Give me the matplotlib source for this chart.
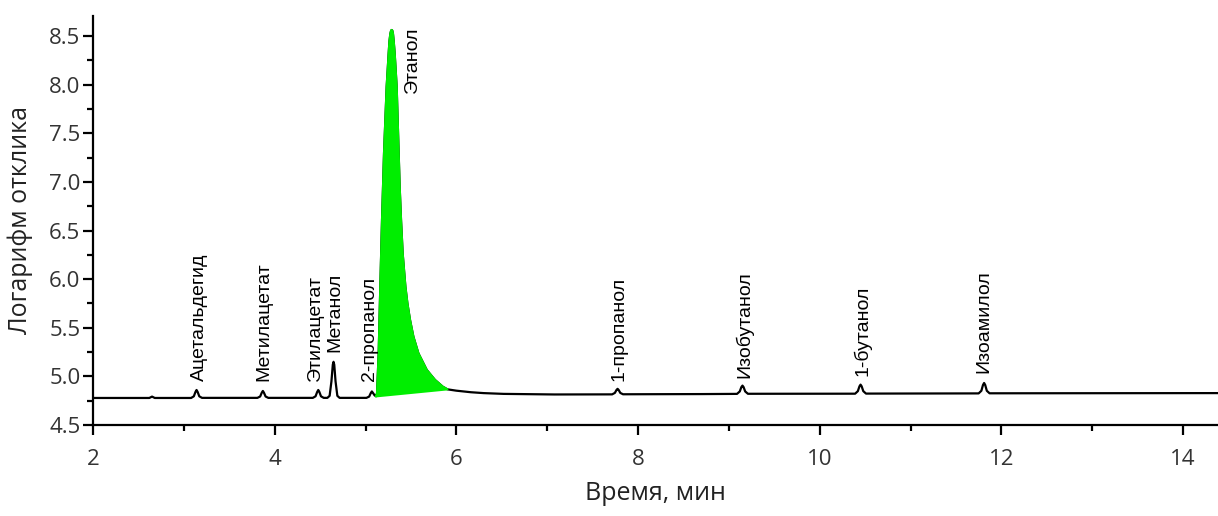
import matplotlib
matplotlib.use("Agg")
import matplotlib.pyplot as plt
import numpy as np

# ---- data ----
time_min = [
    2.00, 2.62, 2.65, 2.68,
    3.08, 3.11, 3.128, 3.14, 3.152, 3.17, 3.20,
    3.81, 3.84, 3.858, 3.87, 3.882, 3.90, 3.93,
    4.42, 4.45, 4.468, 4.48, 4.492, 4.51, 4.54,
    4.58, 4.605, 4.625, 4.64, 4.648, 4.656, 4.67, 4.69, 4.715,
    5.01, 5.04, 5.058, 5.07, 5.082, 5.10, 5.115,
    5.127, 5.145, 5.163, 5.182, 5.204, 5.233, 5.255, 5.264, 5.274, 5.282,
    5.288, 5.295, 5.302, 5.310, 5.321, 5.343, 5.354, 5.365, 5.376, 5.391,
    5.409, 5.439, 5.461, 5.490, 5.527, 5.582, 5.674, 5.765, 5.850, 5.901,
    6.00, 6.16, 6.30, 6.52, 7.08, 7.70,
    7.715, 7.745, 7.763, 7.775, 7.787, 7.805, 7.835,
    8.70, 9.09, 9.12, 9.138, 9.15, 9.162, 9.18, 9.21,
    10.39, 10.42, 10.438, 10.45, 10.462, 10.48, 10.51,
    11.75, 11.78, 11.798, 11.81, 11.822, 11.84, 11.87,
    14.39,
]
response = [
    4.778, 4.778, 4.792, 4.778,
    4.778, 4.795, 4.840, 4.860, 4.840, 4.795, 4.779,
    4.779, 4.793, 4.832, 4.850, 4.832, 4.793, 4.779,
    4.779, 4.795, 4.840, 4.860, 4.840, 4.795, 4.779,
    4.779, 4.800, 4.950, 5.120, 5.150, 5.120, 4.950, 4.800, 4.779,
    4.779, 4.792, 4.828, 4.845, 4.830, 4.805, 4.795,
    4.826, 5.237, 5.922, 6.608, 7.294, 7.979, 8.322, 8.450, 8.525, 8.555,
    8.562, 8.555, 8.525, 8.450, 8.322, 7.979, 7.636, 7.294, 6.950, 6.608,
    6.265, 5.922, 5.751, 5.580, 5.408, 5.237, 5.066, 4.963, 4.894, 4.867,
    4.853, 4.837, 4.828, 4.820, 4.814, 4.815,
    4.815, 4.830, 4.860, 4.872, 4.860, 4.830, 4.816,
    4.818, 4.820, 4.845, 4.890, 4.905, 4.890, 4.845, 4.821,
    4.822, 4.848, 4.898, 4.915, 4.898, 4.848, 4.823,
    4.825, 4.852, 4.912, 4.932, 4.912, 4.852, 4.826,
    4.828,
]
ethanol_start = 5.115
ethanol_end = 5.901

peak_names = ["Ацетальдегид", "Метилацетат", "Этилацетат", "Метанол", "2-пропанол",
              "1-пропанол", "Изобутанол", "1-бутанол", "Изоамилол"]
peak_label_x = [3.17, 3.88, 4.45, 4.66, 5.04, 7.79, 9.17, 10.47, 11.81]
peak_label_y = [4.95, 4.95, 4.95, 5.255, 4.95, 4.95, 4.98, 5.00, 5.03]
main_peak_name = "Этанол"
main_label_x, main_label_y = 5.52, 8.60

x_ticks = [2, 4, 6, 8, 10, 12, 14]
y_ticks = [4.5, 5.0, 5.5, 6.0, 6.5, 7.0, 7.5, 8.0, 8.5]

# ---- figure ----
W, H, DPI = 1218, 516, 100
fig = plt.figure(figsize=(W / DPI, H / DPI), dpi=DPI)
ax = fig.add_axes([93 / W, 1 - 425 / H, 1 - 93 / W, (425 - 16) / H])

t = np.array(time_min)
r = np.array(response)

ax.plot(t, r, color="black", lw=1.6, zorder=2, solid_joinstyle="round")
m = (t >= ethanol_start) & (t <= ethanol_end)
ax.fill(t[m], r[m], facecolor="#00ee00", edgecolor="#00ee00", lw=1.6, zorder=3,
        joinstyle="round")

label_font = dict(family="Liberation Sans", size=14, color="black")
for name, lx, ly in zip(peak_names, peak_label_x, peak_label_y):
    ax.text(lx, ly, name, rotation=90, ha="center", va="bottom", **label_font)
ax.text(main_label_x, main_label_y, main_peak_name, rotation=90, ha="center",
        va="top", **label_font)

ax.set_xlim(2, 14.385)
ax.set_ylim(4.5, 8.706)
ax.set_xticks(x_ticks)
ax.set_yticks(y_ticks)
ax.set_xticklabels([str(v) for v in x_ticks])
ax.set_yticklabels([f"{v:.1f}" for v in y_ticks])
ax.set_xticks(np.arange(3, 15, 2), minor=True)
ax.set_yticks(np.arange(4.75, 8.7, 0.5), minor=True)

for s in ["top", "right"]:
    ax.spines[s].set_visible(False)
for s in ["left", "bottom"]:
    ax.spines[s].set_linewidth(1.6)

tick_color = "#333333"
ax.tick_params(which="major", direction="out", length=7, width=1.6, labelsize=16,
               labelcolor=tick_color)
ax.tick_params(which="minor", direction="out", length=4, width=1.6)
ax.tick_params(axis="x", which="major", pad=10)
ax.tick_params(axis="y", which="major", pad=2)
for lab in ax.get_xticklabels() + ax.get_yticklabels():
    lab.set_family("Open Sans")

ax.set_ylabel("Логарифм отклика", family="Open Sans", fontsize=18, color="#222222")
ax.yaxis.set_label_coords(-0.053, 0.5)
ax.set_xlabel("Время, мин", family="Open Sans", fontsize=18, color="#222222",
              labelpad=8)

fig.savefig("out.png", dpi=DPI)
